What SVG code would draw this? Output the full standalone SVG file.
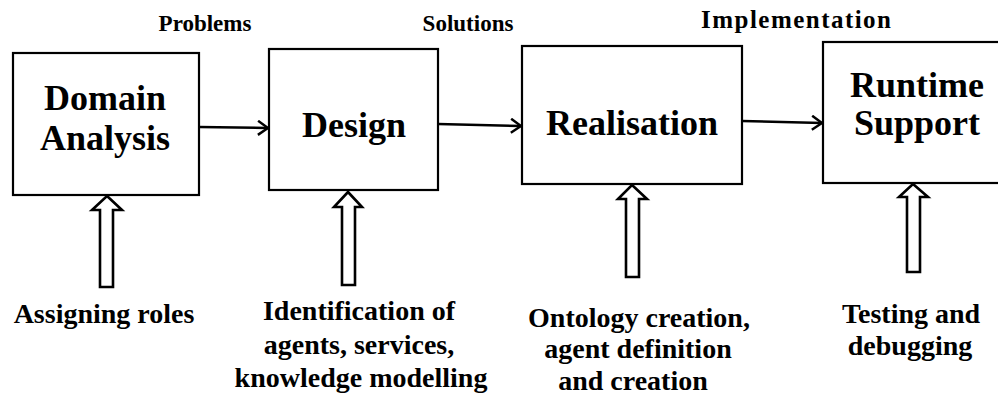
<svg xmlns="http://www.w3.org/2000/svg" width="998" height="396" viewBox="0 0 998 396">
  <style>
    .box { fill: #fff; stroke: #000; stroke-width: 2.2; }
    .title { font-family: "Liberation Serif", "Times New Roman", serif; font-weight: bold; font-size: 36px; fill: #000; text-anchor: middle; }
    .phase { font-family: "Liberation Serif", "Times New Roman", serif; font-weight: bold; font-size: 23px; fill: #000; text-anchor: middle; }
    .phase.wide { font-size: 25px; }
    .note { font-family: "Liberation Serif", "Times New Roman", serif; font-weight: bold; font-size: 28px; fill: #000; text-anchor: middle; }
    .flow { fill: none; stroke: #000; stroke-width: 2.5; }
    .input { fill: #fff; stroke: #000; stroke-width: 2.6; stroke-linejoin: miter; }
  </style>
  <defs>
    <marker id="chevron" viewBox="0 0 12 16" refX="11" refY="8" markerWidth="12" markerHeight="16" markerUnits="userSpaceOnUse" orient="auto">
      <path d="M1,1 L11,8 L1,15" fill="none" stroke="#000" stroke-width="2.5"/>
    </marker>
  </defs>
  <rect width="998" height="396" fill="#fff"/>

  <!-- phase labels above the flow -->
  <g id="phase-labels">
    <text class="phase" x="205" y="31">Problems</text>
    <text class="phase" x="468" y="31">Solutions</text>
    <text class="phase wide" x="796" y="28" textLength="190" lengthAdjust="spacing">Implementation</text>
  </g>

  <!-- process stages -->
  <g id="domain-analysis">
    <rect class="box" x="13" y="53" width="186" height="142"/>
    <text class="title" x="105" y="110">Domain</text>
    <text class="title" x="105" y="150">Analysis</text>
  </g>
  <g id="design">
    <rect class="box" x="269" y="49" width="169" height="141"/>
    <text class="title" x="354" y="137">Design</text>
  </g>
  <g id="realisation">
    <rect class="box" x="522" y="46" width="220" height="138"/>
    <text class="title" x="632" y="135">Realisation</text>
  </g>
  <g id="runtime-support">
    <rect class="box" x="823" y="42" width="180" height="141"/>
    <text class="title" x="917" y="97">Runtime</text>
    <text class="title" x="917" y="135">Support</text>
  </g>

  <!-- connectors: stage flow and activity inputs -->
  <g id="connectors">
    <line class="flow" x1="199" y1="127" x2="268" y2="128" marker-end="url(#chevron)"/>
    <line class="flow" x1="438" y1="124" x2="521" y2="126" marker-end="url(#chevron)"/>
    <line class="flow" x1="742" y1="121" x2="822" y2="123" marker-end="url(#chevron)"/>

    <polygon class="input" points="107,196 122,210 113,210 113,287 100,287 100,210 92,210"/>
    <polygon class="input" points="348,192 362,207 355,207 355,285 342,285 342,207 334,207"/>
    <polygon class="input" points="632,185 647,199 639,199 639,277 626,277 626,199 618,199"/>
    <polygon class="input" points="913,184 928,197 920,197 920,272 907,272 907,197 899,197"/>
  </g>

  <!-- activity descriptions -->
  <g id="activity-labels">
    <text class="note" x="104" y="323">Assigning roles</text>
    <text class="note" x="359" y="320">Identification of</text>
    <text class="note" x="359" y="354">agents, services,</text>
    <text class="note" x="361" y="387">knowledge modelling</text>
    <text class="note" x="639" y="327">Ontology creation,</text>
    <text class="note" x="638" y="358">agent definition</text>
    <text class="note" x="633" y="390">and creation</text>
    <text class="note" x="911" y="323">Testing and</text>
    <text class="note" x="910" y="355">debugging</text>
  </g>
</svg>
